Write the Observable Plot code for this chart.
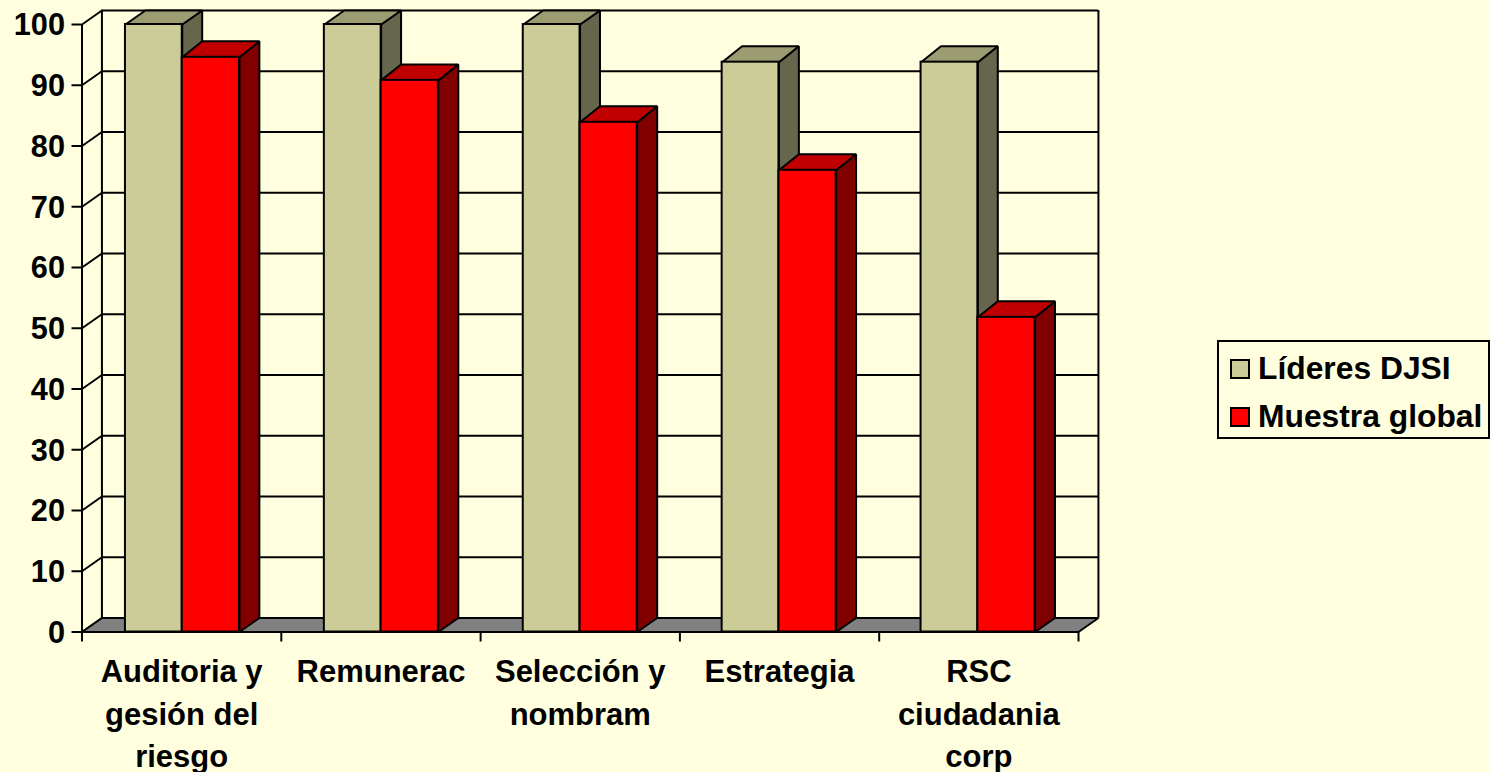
<!DOCTYPE html>
<html>
<head>
<meta charset="utf-8">
<script src="https://cdn.jsdelivr.net/npm/d3@7"></script>
<script src="https://cdn.jsdelivr.net/npm/@observablehq/plot@0.6"></script>
<style>
  html, body { margin: 0; padding: 0; background: #FFFFE0; overflow: hidden; }
  #chart { position: absolute; left: 0; top: 0; }
  #legend { position: absolute; left: 1217px; top: 340px; width: 273px; height: 99px; box-sizing: border-box;
    border: 2px solid #000; font: bold 31.8px "Liberation Sans", Arial, sans-serif; color: #000; }
  #legend div { position: absolute; left: 39px; white-space: nowrap; line-height: 36px; }
  #legend i { position: absolute; left: -28px; top: 9px; width: 16px; height: 16px; border: 2px solid #000; }
</style>
</head>
<body>
<div id="chart"></div>
<div id="legend"></div>
<script>
const categories = ["Auditoria y\ngesión del\nriesgo", "Remunerac", "Selección y\nnombram", "Estrategia", "RSC\nciudadania\ncorp"];
const lideres = [100, 100, 100, 93.8, 93.8];
const muestra = [94.6, 90.8, 83.9, 76, 51.8];
const yTicks = [0, 10, 20, 30, 40, 50, 60, 70, 80, 90, 100];
const seriesNames = ["Líderes DJSI", "Muestra global"];

const depthX = 0.1, depthY = 2.3, topDepth = v => (v === 100 ? 2.3 : 2.63); // 3D extrusion, in data units
const groupStep = 0.998;
const n = categories.length;
const edges = d3.range(n + 1);

function faces(values, x0, x1, topColor, sideColor) {
  const pts = [];
  values.forEach((v, i) => {
    const l = i * groupStep + x0, r = i * groupStep + x1, d = topDepth(v);
    [[r, v], [r + depthX, v + d], [r + depthX, depthY], [r, 0]]
      .forEach(([x, y]) => pts.push({id: `s${i}`, x, y, c: sideColor}));
    [[l, v], [l + depthX, v + d], [r + depthX, v + d], [r, v]]
      .forEach(([x, y]) => pts.push({id: `t${i}`, x, y, c: topColor}));
  });
  return pts;
}
const fronts = (values, x0, x1) => values.map((v, i) => ({x1: i * groupStep + x0, x2: i * groupStep + x1, y: v}));
const polyMark = data => Plot.line(data, {x: "x", y: "y", z: "id", fill: "c", stroke: "#000", strokeWidth: 2,
  curve: "linear-closed", strokeLinejoin: "miter"});
const frontMark = (data, fill) => Plot.rect(data, {x1: "x1", x2: "x2", y1: 0, y2: "y", fill, stroke: "#000", strokeWidth: 2});

const leftWall = yTicks.flatMap(t => [{id: t, x: 0, y: t}, {id: t, x: depthX, y: t + depthY}]);
const floor = [[0, 0], [depthX, depthY], [n + depthX, depthY], [n, 0]].map(([x, y]) => ({id: "floor", x, y, c: "#808080"}));

const chart = Plot.plot({
  width: 1490, height: 772,
  marginLeft: 81.5, marginRight: 412, marginTop: 24, marginBottom: 140.5,
  style: {background: "transparent", fontFamily: "'Liberation Sans', Arial, sans-serif", color: "#000", overflow: "visible"},
  x: {domain: [0, n], range: [81.5, 1078]},
  y: {domain: [0, 100], range: [631.5, 24]},
  marks: [
    Plot.ruleY(yTicks, {y: d => d + depthY, x1: depthX, x2: n + depthX, stroke: "#000", strokeWidth: 2}),
    Plot.ruleX([depthX, n + depthX], {y1: depthY, y2: 100 + depthY, stroke: "#000", strokeWidth: 2}),
    Plot.line(leftWall, {x: "x", y: "y", z: "id", stroke: "#000", strokeWidth: 2}),
    Plot.ruleX([0], {y1: 0, y2: 100, stroke: "#000", strokeWidth: 2}),
    polyMark(floor),
    polyMark(faces(lideres, 0.218, 0.503, "#9C9C72", "#66664D")),
    frontMark(fronts(lideres, 0.218, 0.503), "#CCCC99"),
    polyMark(faces(muestra, 0.503, 0.79, "#C00000", "#800000")),
    frontMark(fronts(muestra, 0.503, 0.79), "#FF0000"),
    Plot.axisY({ticks: yTicks, tickSize: 10, strokeWidth: 2, label: null, tickFormat: () => ""}),
    Plot.axisY({ticks: yTicks, tickSize: 0, tickPadding: 17, dy: 1, fontSize: 30.7, fontWeight: "bold", label: null, tickFormat: d => String(d)}),
    Plot.axisX({ticks: edges, tickSize: 10, strokeWidth: 2, label: null, tickFormat: () => ""}),
    Plot.axisX({ticks: categories.map((c, i) => i + 0.5), tickSize: 0, tickPadding: 20, fontSize: 31, fontWeight: "bold",
      lineHeight: 1.37, label: null, textOverflow: null, tickFormat: d => categories[Math.floor(d)]}),
    Plot.ruleY([0], {x1: 0, x2: n, stroke: "#000", strokeWidth: 2})
  ]
});
document.getElementById("chart").appendChild(chart);

const legend = document.getElementById("legend");
[["#CCCC99", 8], ["#FF0000", 56]].forEach(([c, top], i) => {
  const row = document.createElement("div");
  row.style.top = top + "px";
  row.textContent = seriesNames[i];
  const sw = document.createElement("i");
  sw.style.background = c;
  row.appendChild(sw);
  legend.appendChild(row);
});
</script>
</body>
</html>
